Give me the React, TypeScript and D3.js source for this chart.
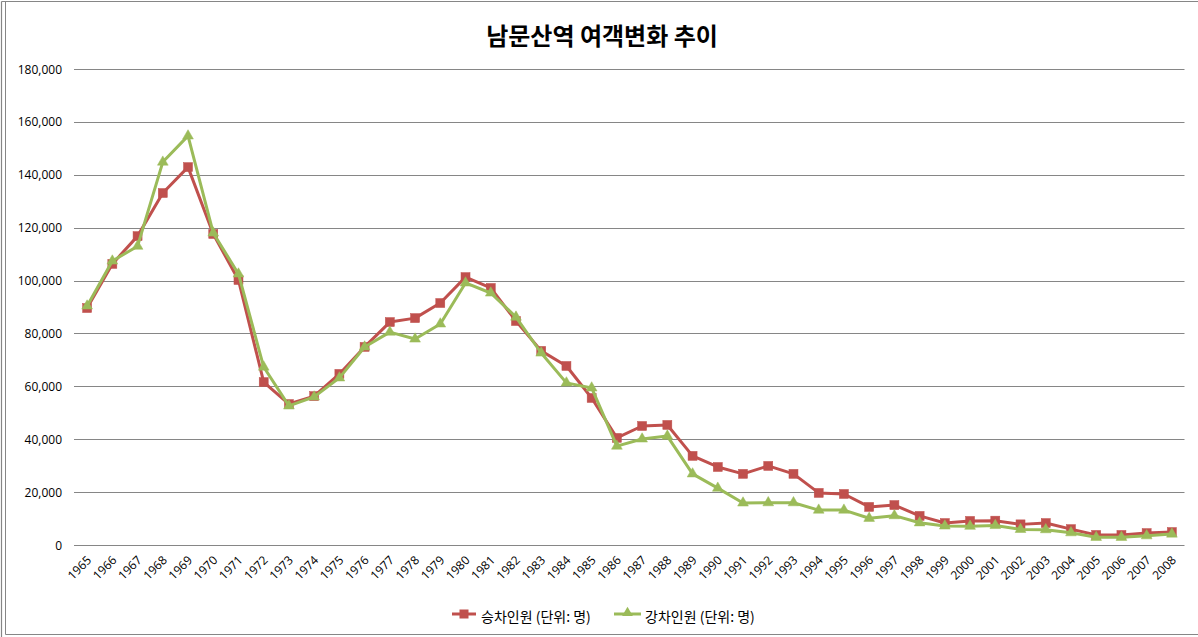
import React from "react";
import * as d3 from "d3";

const years = [
  "1965","1966","1967","1968","1969","1970","1971","1972","1973","1974",
  "1975","1976","1977","1978","1979","1980","1981","1982","1983","1984",
  "1985","1986","1987","1988","1989","1990","1991","1992","1993","1994",
  "1995","1996","1997","1998","1999","2000","2001","2002","2003","2004",
  "2005","2006","2007","2008",
];

const boarding = [
  89600, 106300, 116800, 133100, 142900, 117600, 100200, 61600, 53300, 56300,
  64700, 74900, 84300, 85800, 91500, 101300, 97200, 84700, 73400, 67700,
  55600, 40500, 45000, 45400, 33700, 29500, 26900, 29900, 26900, 19700,
  19300, 14400, 15100, 11000, 8300, 9100, 9200, 7800, 8300, 6000,
  3800, 3800, 4500, 4900,
];

const alighting = [
  90400, 107400, 113000, 144800, 154700, 118000, 102500, 67300, 52600, 56000,
  63200, 74900, 80500, 77900, 83600, 99100, 95300, 86200, 72600, 61300,
  59400, 37400, 40100, 41200, 26900, 21500, 15900, 16000, 16000, 13200,
  13200, 10100, 11100, 8400, 7200, 7100, 7400, 5900, 5800, 4650,
  2900, 2900, 3500, 4150,
];

const yTicks = [0, 20000, 40000, 60000, 80000, 100000, 120000, 140000, 160000, 180000];

const title = "남문산역 여객변화 추이";
const seriesNames = ["승차인원 (단위: 명)", "강차인원 (단위: 명)"];

const W = 1198;
const H = 637;
const RED = "#C0504D";
const GREEN = "#9BBB59";
const GRID = "#868686";
const FONT = "'Noto Sans CJK KR', 'Noto Sans', sans-serif";
const NUMFONT = "'Open Sans', 'Noto Sans', sans-serif";

export default function App() {
  const x = d3.scaleBand<string>().domain(years).range([74.5, 1184.5]);
  const y = d3.scaleLinear().domain([0, 180000]).range([545, 69]);
  const cx = (yr: string) => (x(yr) as number) + x.bandwidth() / 2;

  const line = d3
    .line<number>()
    .x((_, i) => cx(years[i]))
    .y((d) => y(d));

  const fmt = d3.format(",");
  const tri = d3.symbol(d3.symbolTriangle, 50);

  return (
    <svg
      width={W}
      height={H}
      style={{ position: "absolute", left: 0, top: 0, background: "#fff" }}
      fontFamily={FONT}
    >
      <rect x={0} y={0} width={W} height={H} fill="#fff" />
      {/* frame */}
      <line x1={1.5} y1={1.5} x2={W} y2={1.5} stroke={GRID} strokeWidth={1.2} />
      <line x1={1.5} y1={1.5} x2={1.5} y2={H} stroke={GRID} strokeWidth={1.2} />
      <line x1={5.5} y1={1.5} x2={5.5} y2={634.5} stroke={GRID} strokeWidth={1} />
      <line x1={5.5} y1={634.5} x2={W} y2={634.5} stroke={GRID} strokeWidth={1.2} />

      {/* title */}
      <text
        x={602}
        y={45}
        textAnchor="middle"
        fontSize={24}
        fontWeight="bold"
        fill="#000"
      >
        {title}
      </text>

      {/* gridlines and y labels */}
      {yTicks.map((t) => (
        <g key={t}>
          <line
            x1={74}
            x2={1184.5}
            y1={Math.round(y(t)) + 0.5}
            y2={Math.round(y(t)) + 0.5}
            stroke={GRID}
            strokeWidth={1}
          />
          <text
            x={62}
            y={y(t) + 4.5}
            textAnchor="end"
            fontSize={12}
            fontFamily={NUMFONT}
            fill="#000"
          >
            {fmt(t)}
          </text>
        </g>
      ))}

      {/* x labels */}
      {years.map((yr) => (
        <text
          key={yr}
          transform={`translate(${cx(yr) + 5},${561}) rotate(-45)`}
          textAnchor="end"
          fontSize={12}
          fontFamily={NUMFONT}
          fill="#000"
        >
          {yr}
        </text>
      ))}

      {/* series: boarding */}
      <path d={line(boarding) || ""} fill="none" stroke={RED} strokeWidth={3} strokeLinejoin="round" />
      {boarding.map((v, i) => (
        <rect
          key={"b" + i}
          x={cx(years[i]) - 4.5}
          y={y(v) - 4.5}
          width={9}
          height={9}
          fill={RED}
          stroke={RED}
          strokeWidth={0.5}
        />
      ))}

      {/* series: alighting */}
      <path d={line(alighting) || ""} fill="none" stroke={GREEN} strokeWidth={3} strokeLinejoin="round" />
      {alighting.map((v, i) => (
        <path
          key={"a" + i}
          d={tri() || ""}
          transform={`translate(${cx(years[i])},${y(v)})`}
          fill={GREEN}
          stroke={GREEN}
          strokeWidth={0.5}
        />
      ))}

      {/* legend */}
      <g>
        <line x1={452} x2={476} y1={614} y2={614} stroke={RED} strokeWidth={3} />
        <rect x={459.5} y={609.5} width={9} height={9} fill={RED} />
        <text x={481} y={622} fontSize={14} fill="#000">
          {seriesNames[0]}
        </text>
        <line x1={614} x2={641} y1={614} y2={614} stroke={GREEN} strokeWidth={3} />
        <path d={tri() || ""} transform="translate(627.5,613)" fill={GREEN} />
        <text x={645} y={622} fontSize={14} fill="#000">
          {seriesNames[1]}
        </text>
      </g>
    </svg>
  );
}
